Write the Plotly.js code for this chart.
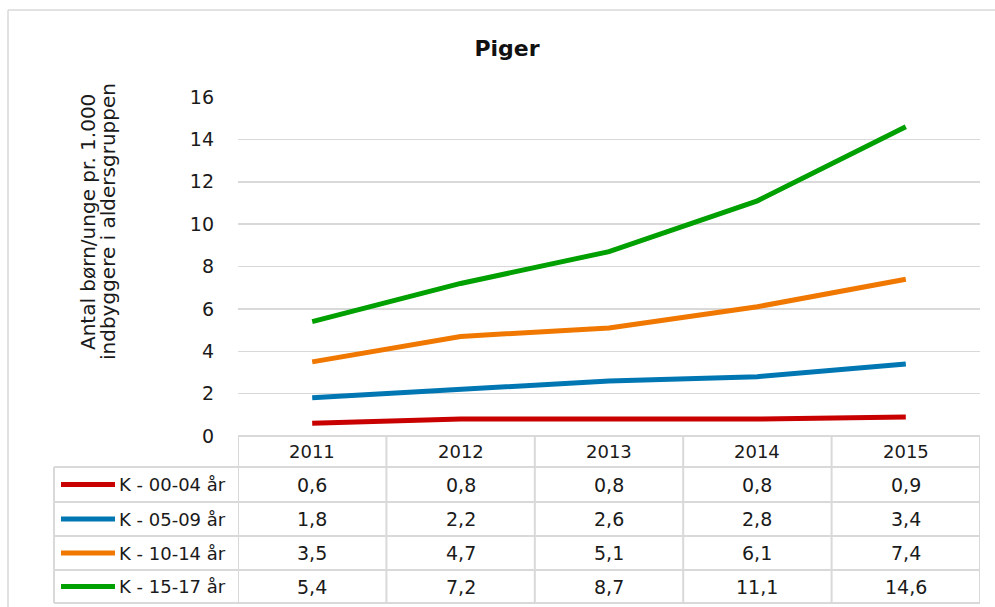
<!DOCTYPE html>
<html>
<head>
<meta charset="utf-8">
<script src="https://cdn.plot.ly/plotly-3.0.1.min.js"></script>
<style>html,body{margin:0;padding:0;background:#fff;}#chart{width:995px;height:607px;}</style>
</head>
<body>
<div id="chart"></div>
<script>
const years = ['2011', '2012', '2013', '2014', '2015'];
const seriesNames = ['K - 00-04 år', 'K - 05-09 år', 'K - 10-14 år', 'K - 15-17 år'];
const k0004 = [0.6, 0.8, 0.8, 0.8, 0.9];
const k0509 = [1.8, 2.2, 2.6, 2.8, 3.4];
const k1014 = [3.5, 4.7, 5.1, 6.1, 7.4];
const k1517 = [5.4, 7.2, 8.7, 11.1, 14.6];
const seriesColors = ['#C80000', '#0077B3', '#F07800', '#00A000'];
const seriesValues = [k0004, k0509, k1014, k1517];
const yTitleLines = ['Antal børn/unge pr. 1.000', 'indbyggere i aldersgruppen'];

const FONT = 'DejaVu Sans, Verdana, sans-serif';
const W = 995, H = 607;
const L = 238, R = 980, T = 97, B = 436;
const px = x => (x - L) / (R - L);
const py = y => (B - y) / (B - T);
const GRID = '#D9D9D9';
const TXT = '#1a1a1a';

const idx = years.map((_, i) => i);
const traces = seriesValues.map((vals, s) => ({
  x: idx, y: vals, type: 'scatter', mode: 'lines', name: seriesNames[s],
  line: {color: seriesColors[s], width: 5}, hoverinfo: 'skip'
}));

const shapes = [];
const annotations = [];
const line = (x0, y0, x1, y1, color, width) => shapes.push({
  type: 'line', xref: 'paper', yref: 'paper', x0, y0, x1, y1,
  line: {color, width}
});

// outer border (top and left)
line(px(8), py(10), px(1000), py(10), GRID, 1.5);
line(px(8), py(10), px(8), py(620), GRID, 1.5);

// table geometry
const rowTops = [436, 467, 502, 536, 570, 603];
const tableLeft = 54;
line(px(L), py(rowTops[0]), px(R), py(rowTops[0]), GRID, 2);
for (let r = 1; r < rowTops.length; r++) line(px(tableLeft), py(rowTops[r]), px(R), py(rowTops[r]), GRID, 2);
line(px(tableLeft), py(rowTops[1]), px(tableLeft), py(rowTops[5]), GRID, 2);
for (let i = 0; i <= years.length; i++) {
  shapes.push({type: 'line', xref: 'x', yref: 'paper', x0: i - 0.5, x1: i - 0.5,
    y0: py(rowTops[0]), y1: py(rowTops[5]), line: {color: GRID, width: 2}});
}
years.forEach((yr, i) => annotations.push({
  xref: 'x', yref: 'paper', x: i, y: py((rowTops[0] + rowTops[1]) / 2),
  text: yr, showarrow: false, xanchor: 'center', yanchor: 'middle',
  font: {family: FONT, size: 18, color: TXT}
}));
seriesValues.forEach((vals, s) => {
  const yc = py((rowTops[s + 1] + rowTops[s + 2]) / 2);
  shapes.push({type: 'line', xref: 'paper', yref: 'paper', x0: px(61), x1: px(115), y0: yc, y1: yc,
    line: {color: seriesColors[s], width: 5}});
  annotations.push({xref: 'paper', yref: 'paper', x: px(117), y: yc, text: seriesNames[s],
    showarrow: false, xanchor: 'left', yanchor: 'middle', font: {family: FONT, size: 18, color: TXT}});
  vals.forEach((v, i) => annotations.push({
    xref: 'x', yref: 'paper', x: i, y: yc, text: v.toFixed(1).replace('.', ','),
    showarrow: false, xanchor: 'center', yanchor: 'middle', font: {family: FONT, size: 19, color: TXT}
  }));
});

// y axis title (two lines)
[88, 108].forEach((xc, k) => annotations.push({xref: 'paper', yref: 'paper', x: px(xc), y: py(222),
  text: yTitleLines[k], textangle: -90,
  showarrow: false, xanchor: 'center', yanchor: 'middle',
  font: {family: FONT, size: 20, color: TXT}}));

const layout = {
  width: W, height: H,
  margin: {l: L, r: W - R, t: T, b: H - B, pad: 0},
  paper_bgcolor: '#fff', plot_bgcolor: '#fff',
  showlegend: false,
  title: {text: 'Piger', x: 507 / W, xref: 'container', xanchor: 'center',
    y: 1 - 48 / H, yref: 'container', yanchor: 'middle',
    font: {family: FONT, size: 22, color: '#111', weight: 'bold'}},
  xaxis: {range: [-0.5, 4.5], showticklabels: false, showgrid: false, zeroline: false,
    showline: false, fixedrange: true},
  yaxis: {range: [0, 16], dtick: 2, tick0: 0, showgrid: true, gridcolor: GRID, gridwidth: 1.5,
    zeroline: false, showline: false, ticks: '', ticklabelstandoff: 23,
    tickfont: {family: FONT, size: 19, color: TXT}, fixedrange: true},
  shapes, annotations
};

Plotly.newPlot('chart', traces, layout, {staticPlot: true, displayModeBar: false});
</script>
</body>
</html>
